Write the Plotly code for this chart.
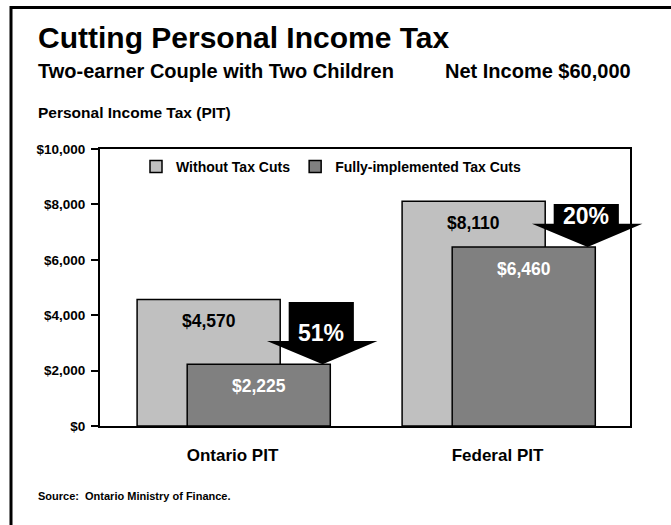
import plotly.graph_objects as go

# ---- data -------------------------------------------------------------
categories = ["Ontario PIT", "Federal PIT"]
series_names = ["Without Tax Cuts", "Fully-implemented Tax Cuts"]
without_cuts = [4570, 8110]
with_cuts = [2225, 6460]
y_ticks = [0, 2000, 4000, 6000, 8000, 10000]
y_tick_labels = [f"${v:,}" for v in y_ticks]

# ---- page geometry (pixels) --------------------------------------------
W_PAGE, H_PAGE = 671, 525
L, R, T, B = 100, 41, 149, 99
PW, PH = W_PAGE - L - R, H_PAGE - T - B
X_RANGE = (-0.5, 1.5)
Y_MAX = 10000

FONT = "Liberation Sans, Arial, Helvetica, sans-serif"
LIGHT, DARK = "#c0c0c0", "#808080"

BAR_W = 0.54
OFF_LIGHT, OFF_DARK = -0.36, -0.171

# block arrow shape, x offsets relative to category centre
ARROW_RECT = (0.212, 0.458)
ARROW_HEAD = (0.13, 0.547)
ARROW_TIP_X = 0.34
ARROW_HEAD_H = 840      # head height in y units
ARROW_TOP_GAP = 95      # rectangle top below the "without" value


def px_x(px):
    return (px - L) / PW


def px_y(py):
    return (T + PH - py) / PH


def dx(x):
    return (x - X_RANGE[0]) / (X_RANGE[1] - X_RANGE[0])


def dy(v):
    return v / Y_MAX


xs = list(range(len(categories)))

fig = go.Figure()
fig.add_trace(go.Bar(
    x=xs, y=without_cuts, name=series_names[0],
    width=BAR_W, offset=OFF_LIGHT,
    marker=dict(color=LIGHT, line=dict(color="black", width=1.5)),
    hoverinfo="skip",
))
fig.add_trace(go.Bar(
    x=xs, y=with_cuts, name=series_names[1],
    width=BAR_W, offset=OFF_DARK,
    marker=dict(color=DARK, line=dict(color="black", width=1.5)),
    hoverinfo="skip",
))

annotations = []
shapes = []

for i, (before, after) in enumerate(zip(without_cuts, with_cuts)):
    # value labels inside the top of each bar
    annotations.append(dict(
        x=i + OFF_LIGHT + BAR_W / 2, y=before, xref="x", yref="y",
        text=f"${before:,}", showarrow=False, yanchor="middle", yshift=-22,
        font=dict(family=FONT, size=17.5, color="black", weight="bold"),
    ))
    annotations.append(dict(
        x=i + OFF_DARK + BAR_W / 2, y=after, xref="x", yref="y",
        text=f"${after:,}", showarrow=False, yanchor="middle", yshift=-22,
        font=dict(family=FONT, size=17.5, color="white", weight="bold"),
    ))

    # black block arrow pointing at the reduced bar
    top = before - ARROW_TOP_GAP
    base = after + ARROW_HEAD_H
    pts = [
        (i + ARROW_RECT[0], top), (i + ARROW_RECT[1], top),
        (i + ARROW_RECT[1], base), (i + ARROW_HEAD[1], base),
        (i + ARROW_TIP_X, after), (i + ARROW_HEAD[0], base),
        (i + ARROW_RECT[0], base),
    ]
    path = "M" + " L".join(f"{dx(x):.5f},{dy(y):.5f}" for x, y in pts) + " Z"
    shapes.append(dict(type="path", path=path, xref="paper", yref="paper",
                       fillcolor="black", line=dict(color="black", width=0),
                       layer="above"))

    pct = round((before - after) / before * 100)
    annotations.append(dict(
        x=i + sum(ARROW_RECT) / 2, y=base, xref="x", yref="y",
        text=f"{pct}%", showarrow=False, yanchor="bottom", yshift=-7,
        font=dict(family=FONT, size=23, color="white", weight="bold"),
    ))

# headings and notes
text_items = [
    ("Cutting Personal Income Tax", 36, 37, 30, "left"),
    ("Two-earner Couple with Two Children", 36, 71, 20, "left"),
    ("Net Income $60,000", 633, 71, 20, "right"),
    ("Personal Income Tax (PIT)", 36, 112, 15.5, "left"),
    ("Source:  Ontario Ministry of Finance.", 36, 496, 11, "left"),
]
for txt, x, y, size, anchor in text_items:
    annotations.append(dict(
        x=px_x(x), y=px_y(y), xref="paper", yref="paper", text=txt,
        showarrow=False, xanchor=anchor, yanchor="middle",
        font=dict(family=FONT, size=size, color="black", weight="bold"),
    ))

# page frame: top and left rules
shapes.append(dict(type="line", xref="paper", yref="paper",
                   x0=px_x(10), x1=px_x(672), y0=px_y(7.5), y1=px_y(7.5),
                   line=dict(color="black", width=3)))
shapes.append(dict(type="line", xref="paper", yref="paper",
                   x0=px_x(11), x1=px_x(11), y0=px_y(6), y1=px_y(530),
                   line=dict(color="black", width=3)))

fig.update_layout(
    width=W_PAGE, height=H_PAGE,
    margin=dict(l=L, r=R, t=T, b=B, pad=0),
    paper_bgcolor="white", plot_bgcolor="white",
    barmode="overlay",
    showlegend=True,
    legend=dict(
        orientation="h", x=px_x(136), y=px_y(167), xanchor="left",
        yanchor="middle", bgcolor="rgba(0,0,0,0)",
        font=dict(family=FONT, size=14, color="black", weight="bold"),
        itemwidth=30,
    ),
    annotations=annotations,
    shapes=shapes,
    font=dict(family=FONT, color="black"),
)

fig.update_xaxes(
    range=list(X_RANGE), tickvals=xs, ticktext=categories,
    showline=True, linecolor="black", linewidth=2, mirror=True,
    ticks="", showgrid=False, zeroline=False, ticklabelstandoff=13,
    tickfont=dict(family=FONT, size=17, color="black", weight="bold"),
    fixedrange=True,
)
fig.update_yaxes(
    range=[0, Y_MAX], tickvals=y_ticks, ticktext=y_tick_labels,
    showline=True, linecolor="black", linewidth=2, mirror=True,
    ticks="outside", ticklen=7, tickwidth=2, tickcolor="black",
    showgrid=False, zeroline=False, ticklabelstandoff=3,
    tickfont=dict(family=FONT, size=13.5, color="black", weight="bold"),
    fixedrange=True,
)

fig.write_html("out.html")
